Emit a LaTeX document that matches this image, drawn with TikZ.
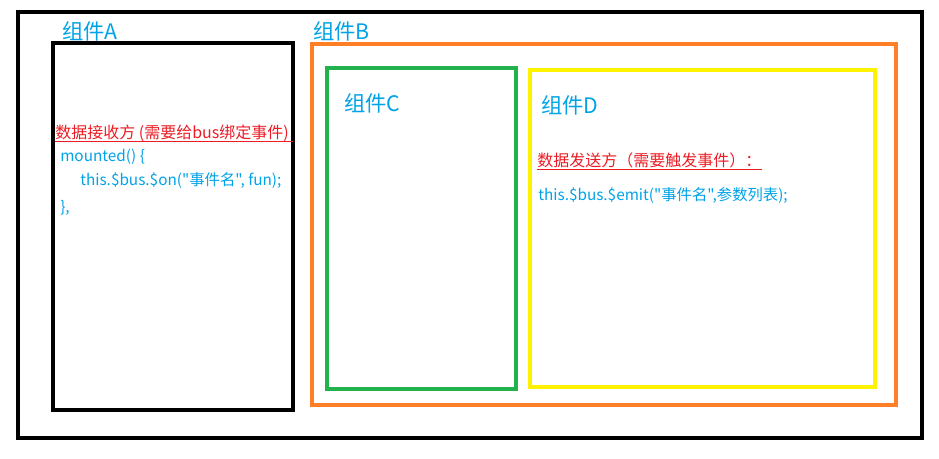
\documentclass[tikz,border=0pt]{standalone}
\usepackage{fontspec}
\setmainfont{Noto Sans CJK SC}[Ligatures=TeXOff]
\usepackage{xcolor}
\usetikzlibrary{positioning}
\definecolor{tblue}{HTML}{00A2E8}
\definecolor{tred}{HTML}{ED1C24}
\definecolor{torange}{HTML}{FF7F27}
\definecolor{tgreen}{HTML}{22B14C}
\definecolor{tyellow}{HTML}{FFF200}

\begin{document}
\begin{tikzpicture}[
  x=0.75pt,y=-0.75pt,
  comp/.style={draw,line width=2.3pt},
  title/.style={anchor=west,inner sep=0pt,text=tblue,font=\fontsize{16}{19}\selectfont},
  code/.style={anchor=west,inner sep=0pt,text=tblue,font=\fontsize{11.5}{14}\selectfont},
  note/.style={anchor=west,inner sep=0pt,text=tred,font=\fontsize{12}{14}\selectfont}
]
\useasboundingbox (0,0) rectangle (939,458);
\draw[comp,black] (18,12) rectangle (922,438);
\draw[comp,black] (53,43) rectangle (293,410);
\draw[comp,torange] (312,44) rectangle (896,405);
\draw[comp,tgreen] (327,68) rectangle (516,389);
\draw[comp,tyellow] (530,70) rectangle (875,387);

\node[title] (ta) at (62,31) {组件A};
\node[title] (tb) at (313,31) {组件B};
\node[title] (tc) at (344,103) {组件C};
\node[title] (td) at (541,105) {组件D};

% receiver
\node[note] (recv) at (55,133) {数据接收方 (需要给bus绑定事件)};
\draw[tred,line width=0.9pt] ([yshift=-2.5pt]recv.base west) -- ([yshift=-2.5pt,xshift=3pt]recv.base east);
\node[code] (mnt) at (60,157) {mounted() \{};
\node[code] (on) at (80,181) {this.\$bus.\$on("事件名", fun);};
\node[code] (cls) at (60,208) {\},};

% sender
\node[note] (send) at (537,160) {数据发送方（需要触发事件）：};
\draw[tred,line width=0.9pt] ([yshift=-2.5pt]send.base west) -- ([yshift=-2.5pt]send.base east);
\node[code] (emit) at (538,196) {this.\$bus.\$emit("事件名",参数列表);};
\end{tikzpicture}
\end{document}
